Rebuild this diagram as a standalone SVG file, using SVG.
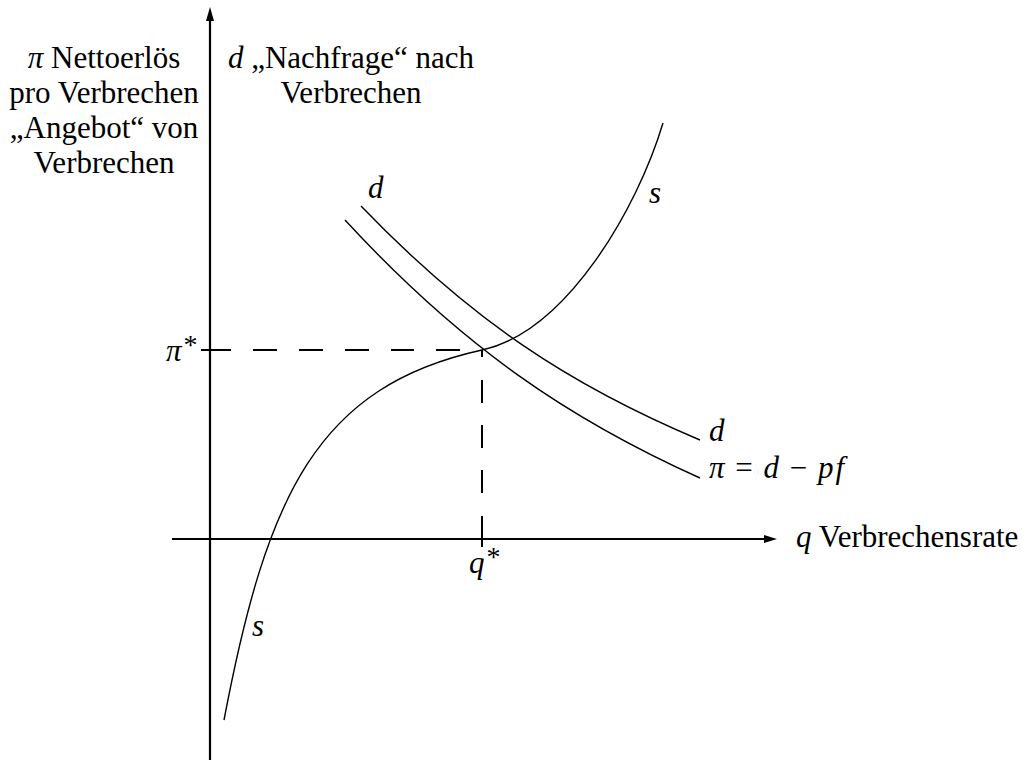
<svg xmlns="http://www.w3.org/2000/svg" width="1022" height="761" viewBox="0 0 1022 761">
<style>
text{font-family:"Liberation Serif","Times New Roman",serif;font-size:31px;fill:#000}
.c{text-anchor:middle}
.i{font-style:italic}
.sup{font-size:28px}
.axis{stroke:#000;stroke-width:2.2;fill:none}
.curve{stroke:#000;stroke-width:1.4;fill:none}
.dash{stroke:#000;stroke-width:2;fill:none}
</style>
<rect width="1022" height="761" fill="#fff"/>
<g id="axes">
<line class="axis" x1="210" y1="760" x2="210" y2="18"/>
<polygon points="210,7 214,21 206,21" fill="#000"/>
<line class="axis" x1="172" y1="539" x2="767" y2="539"/>
<polygon points="777,539 764,535 764,543" fill="#000"/>
</g>
<g id="connectors">
<path id="s-curve" class="curve" d="M224,720 C266.75,495 317,386.3 482,350 C567,331.3 637.5,208 663,123"/>
<path id="d-curve" class="curve" d="M361,206 C471,320.4 570,385.4 700,440"/>
<path id="pi-curve" class="curve" d="M345,220 C463,348 570,419.5 700,478"/>
<path id="pi-star-dash" class="dash" d="M201,350H231M253,350H277M299,350H323M345,350H369M391,350H414M436,350H460"/>
<path id="q-star-dash" class="dash" d="M482,350V357M482,380V403M482,425V448M482,470V493M482,516V547"/>
</g>
<g id="y-label-left">
<text class="c" x="104" y="68"><tspan class="i">π</tspan> Nettoerlös</text>
<text class="c" x="104" y="103">pro Verbrechen</text>
<text class="c" x="104" y="138">„Angebot“ von</text>
<text class="c" x="104" y="173">Verbrechen</text>
</g>
<g id="y-label-right">
<text class="c" x="351" y="68"><tspan class="i">d</tspan> „Nachfrage“ nach</text>
<text class="c" x="351" y="103">Verbrechen</text>
</g>
<g id="curve-labels">
<text class="i" x="368" y="198">d</text>
<text class="i" x="649" y="203">s</text>
<text class="i" x="252" y="636">s</text>
<text class="i" x="709" y="441">d</text>
<text x="709" y="478" word-spacing="3"><tspan class="i">π</tspan> = <tspan class="i">d</tspan> − <tspan class="i">p</tspan><tspan class="i" dx="2">f</tspan></text>
</g>
<g id="axis-labels">
<text x="796" y="547"><tspan class="i">q</tspan> Verbrechensrate</text>
<text x="166" y="361"><tspan class="i">π</tspan><tspan class="sup" dx="2" dy="-7">*</tspan></text>
<text x="469" y="573"><tspan class="i">q</tspan><tspan class="sup" dx="2" dy="-7">*</tspan></text>
</g>
</svg>
